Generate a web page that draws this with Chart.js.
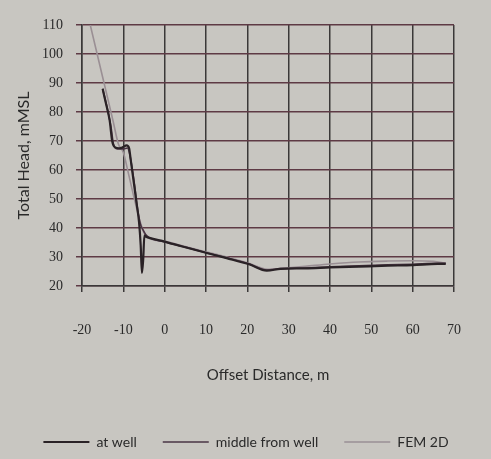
<!DOCTYPE html>
<html>
<head>
<meta charset="utf-8">
<script src="https://cdn.jsdelivr.net/npm/chart.js@4/dist/chart.umd.min.js"></script>
<style>
    body { margin: 0; background: #c8c6c1; }
    canvas { display: block; }
</style>
</head>
<body>
<canvas id="chart" width="491" height="459"></canvas>
<script>
'use strict';

// Series values (offset in m, head in mMSL)
const atWellX = [-15, -14.3, -13.3, -12.7, -12, -11, -10.2, -9.2, -8.6, -8.2, -7.4, -6.8, -6.2, -5.8, -5.5, -5.2, -4.9, -4.5, -3.7, 0, 4.3, 10.4, 15, 20.6, 24.7, 28, 34, 40, 47, 54, 60, 66, 68];
const atWellY = [88, 83.5, 77, 70, 67.8, 67.5, 67.8, 68.5, 67.5, 63.4, 55, 48.6, 42, 34, 24.5, 29, 37.5, 37, 36.6, 35.3, 33.6, 31.3, 29.6, 27.4, 25.3, 25.9, 26.1, 26.4, 26.7, 27, 27.2, 27.6, 27.6];

const middleX = [-15, -14, -13, -12.4, -11.5, -10, -9, -8.4, -7.4, -6.5, -5.9, -5.3, -4.6, -3.6, 0, 5, 10, 15, 20, 24.7, 28, 34, 40, 47, 54, 60, 66, 68];
const middleY = [88, 82, 75, 69, 67.3, 67.3, 67.6, 65, 56, 46, 41.5, 39.5, 37.8, 36.6, 35.2, 33.4, 31.5, 29.7, 27.8, 25.5, 26, 26.2, 26.6, 27, 27.3, 27.5, 27.8, 27.8];

const femX = [-18, -15, -12.5, -11.2, -10, -8.8, -7.5, -6.1, -5.2, -4, 0, 5, 10, 15, 20, 25, 30, 34, 40, 47, 54, 60, 65, 68];
const femY = [110, 92, 77, 69, 66, 59, 51, 43, 39, 36.6, 35.4, 33.6, 31.8, 30, 28, 25.8, 26.3, 26.8, 27.6, 28.3, 28.6, 28.7, 28.5, 27.9];

// Axis ranges
const xMin = -20, xMax = 70, xStep = 10;
const yMin = 20, yMax = 110, yStep = 10;

function toPoints(xs, ys) {
    return xs.map((x, i) => ({ x: x, y: ys[i] }));
}

const serif = "'Liberation Serif', serif";
const sans = "Lato, 'DejaVu Sans', sans-serif";

const ctx = document.getElementById('chart').getContext('2d');

new Chart(ctx, {
    type: 'scatter',
    data: {
        datasets: [{
            label: 'at well',
            data: toPoints(atWellX, atWellY),
            showLine: true,
            borderColor: '#2a2226',
            backgroundColor: '#2a2226',
            borderWidth: 2.2,
            pointRadius: 0,
            cubicInterpolationMode: 'monotone'
        }, {
            label: 'middle from well',
            data: toPoints(middleX, middleY),
            showLine: true,
            borderColor: '#4a3444',
            backgroundColor: '#4a3444',
            borderWidth: 1.6,
            pointRadius: 0,
            cubicInterpolationMode: 'monotone'
        }, {
            label: 'FEM 2D',
            data: toPoints(femX, femY),
            showLine: true,
            borderColor: '#9a8f94',
            backgroundColor: '#9a8f94',
            borderWidth: 1.6,
            pointRadius: 0,
            cubicInterpolationMode: 'monotone'
        }]
    },
    options: {
        responsive: false,
        animation: false,
        layout: {
            padding: { left: 10, right: 9, top: 25, bottom: 0 }
        },
        plugins: {
            tooltip: { enabled: false },
            legend: {
                position: 'bottom',
                labels: {
                    usePointStyle: true,
                    pointStyle: 'line',
                    pointStyleWidth: 46,
                    padding: 26,
                    color: '#2a2a2a',
                    font: { family: sans, size: 14 }
                }
            }
        },
        scales: {
            x: {
                type: 'linear',
                min: xMin,
                max: xMax,
                afterFit: (scale) => { scale.height = 123; },
                border: { color: '#3a3838', width: 1.5 },
                grid: { color: '#3a3838', lineWidth: 1.5, tickLength: 6 },
                ticks: {
                    stepSize: xStep,
                    padding: 30,
                    color: '#2a2a2a',
                    maxRotation: 0,
                    font: { family: serif, size: 14 }
                },
                title: {
                    display: true,
                    text: 'Offset Distance, m',
                    color: '#2a2a2a',
                    font: { family: sans, size: 15 },
                    padding: { top: 10, bottom: 25 }
                }
            },
            y: {
                min: yMin,
                max: yMax,
                afterFit: (scale) => { scale.width = 72; },
                border: { color: '#3a3838', width: 1.5 },
                grid: { color: '#5e3a45', lineWidth: 1.5, tickLength: 6 },
                ticks: {
                    stepSize: yStep,
                    padding: 13,
                    color: '#2a2a2a',
                    font: { family: serif, size: 14 }
                },
                title: {
                    display: true,
                    text: 'Total Head, mMSL',
                    color: '#2a2a2a',
                    font: { family: sans, size: 16 },
                    padding: 4
                }
            }
        }
    }
});
</script>
</body>
</html>
